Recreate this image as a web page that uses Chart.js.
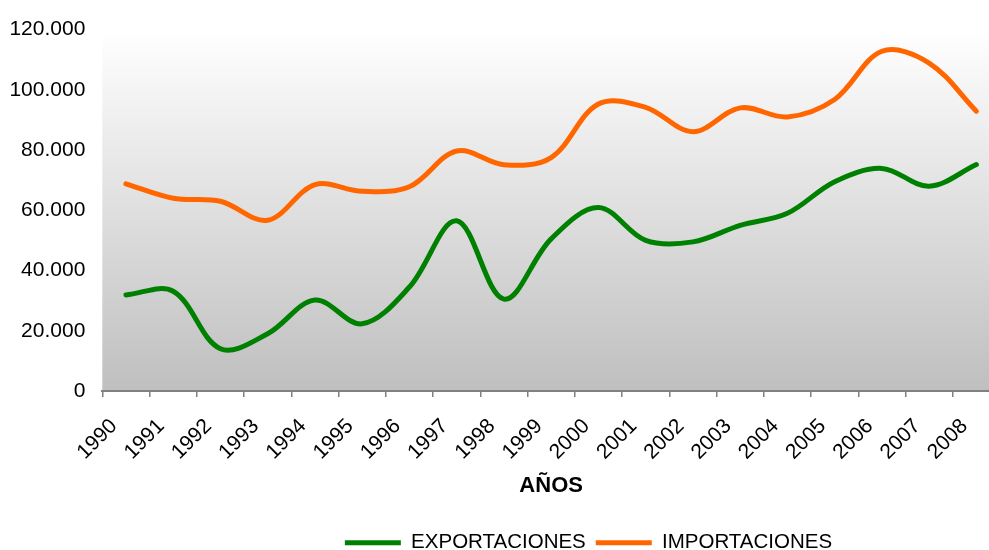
<!DOCTYPE html>
<html>
<head>
<meta charset="utf-8">
<script src="https://cdn.jsdelivr.net/npm/chart.js@4.4.1/dist/chart.umd.min.js"></script>
<style>
  html, body { margin: 0; padding: 0; background: #ffffff; overflow: hidden; width: 989px; height: 550px; }
  #wrap { position: absolute; left: 0; top: 0; width: 1177px; height: 563px; }
</style>
</head>
<body>
<div id="wrap"><canvas id="c" width="1177" height="563"></canvas></div>
<script>
const years = ['1990','1991','1992','1993','1994','1995','1996','1997','1998','1999',
               '2000','2001','2002','2003','2004','2005','2006','2007','2008'];
const exportaciones = [31900, 33100, 14000, 19000, 30200, 22300, 34500, 56500, 30500, 50500,
                       60900, 50000, 49500, 55000, 59000, 69500, 73900, 68000, 75200];
const importaciones = [68800, 64000, 63000, 56700, 68500, 66300, 67800, 79700, 75100, 77500,
                       95300, 94200, 86100, 94000, 91000, 96800, 112800, 108900, 92900];
const yTicks = [0, 20000, 40000, 60000, 80000, 100000, 120000];
const seriesNames = ['EXPORTACIONES', 'IMPORTACIONES'];
const xTitle = 'AÑOS';

const FONT = "'Liberation Sans', Arial, sans-serif";
const GREEN = '#008000';
const ORANGE = '#ff6600';

function fmt(v) { return String(v).replace(/\B(?=(\d{3})+(?!\d))/g, '.'); }

const bgPlugin = {
  id: 'plotBg',
  afterLayout(chart) {
    const lg = chart.legend;
    if (lg) {
      const w = lg.right - lg.left;
      lg.left = (chart.width - w) / 2;
      lg.right = lg.left + w;
    }
  },
  beforeDraw(chart) {
    const a = chart.chartArea, ctx = chart.ctx;
    const g = ctx.createLinearGradient(0, a.top, 0, a.bottom);
    g.addColorStop(0, '#ffffff');
    g.addColorStop(1, '#bfbfbf');
    ctx.save();
    ctx.fillStyle = g;
    ctx.fillRect(a.left, a.top, a.right - a.left, a.bottom - a.top);
    ctx.restore();
  }
};

new Chart(document.getElementById('c'), {
  type: 'line',
  data: {
    labels: years,
    datasets: [
      { label: seriesNames[0], data: exportaciones, borderColor: GREEN, backgroundColor: GREEN,
        borderWidth: 5, pointRadius: 0, tension: 0.35, fill: false, borderCapStyle: 'round', borderJoinStyle: 'round' },
      { label: seriesNames[1], data: importaciones, borderColor: ORANGE, backgroundColor: ORANGE,
        borderWidth: 5, pointRadius: 0, tension: 0.35, fill: false, borderCapStyle: 'round', borderJoinStyle: 'round' }
    ]
  },
  options: {
    responsive: false,
    animation: false,
    devicePixelRatio: 1,
    layout: { padding: { top: 28, left: -7.6, right: 177, bottom: 0 } },
    plugins: {
      tooltip: { enabled: false },
      legend: {
        position: 'bottom',
        labels: {
          font: { family: FONT, size: 20.5 },
          color: '#000000',
          boxWidth: 56,
          boxHeight: 5,
          padding: 10,
          generateLabels(chart) {
            return chart.data.datasets.map((d, i) => ({
              text: d.label, fillStyle: d.borderColor, strokeStyle: d.borderColor,
              lineWidth: 0, hidden: false, datasetIndex: i, fontColor: '#000000'
            }));
          }
        }
      }
    },
    scales: {
      x: {
        type: 'category',
        offset: true,
        grid: { display: true, drawOnChartArea: false, drawTicks: true, tickLength: 6, color: '#808080', lineWidth: 1.5, offset: true },
        border: { display: true, color: '#808080', width: 2 },
        ticks: { autoSkip: false, maxRotation: 45, minRotation: 45, padding: 17, labelOffset: -12, color: '#000000',
                 font: { family: FONT, size: 21 } },
        title: { display: true, text: xTitle, color: '#000000', font: { family: FONT, size: 22, weight: 'bold' },
                 padding: { top: -9.5, bottom: 23.8 } }
      },
      y: {
        min: 0, max: 120000,
        afterBuildTicks(scale) { scale.ticks = yTicks.map(v => ({ value: v })); },
        grid: { display: false, drawTicks: false, tickLength: 0 },
        border: { display: false },
        ticks: { padding: 17, color: '#000000', font: { family: FONT, size: 21 }, callback: v => fmt(v) }
      }
    }
  },
  plugins: [bgPlugin]
});
</script>
</body>
</html>
